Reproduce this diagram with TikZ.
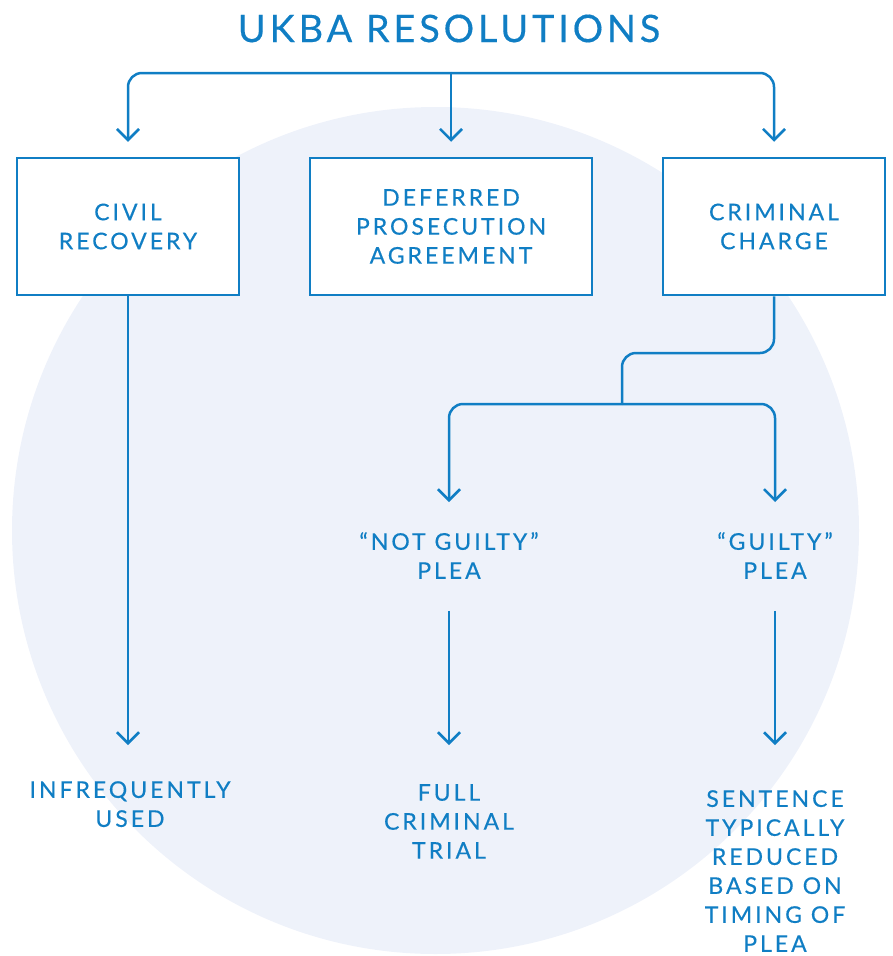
\documentclass[tikz,border=0pt]{standalone}
\usepackage{fontspec}
\setmainfont{Lato}[LetterSpace=13,FakeBold=0.35]
\usetikzlibrary{arrows.meta}
\definecolor{ukblue}{RGB}{16,126,196}
\definecolor{circfill}{RGB}{238,242,250}
\begin{document}
\begin{tikzpicture}[x=1pt,y=-1pt,
  lbl/.style={font=\fontsize{23}{29}\selectfont, text=ukblue, align=center, inner sep=0pt},
  box/.style={draw=ukblue, line width=2.5pt, fill=white, lbl, minimum height=137pt},
  conn/.style={draw=ukblue, line width=2.5pt, rounded corners=14pt},
  arr/.style={conn, -{Straight Barb[length=11pt,width=22pt]}}]
\useasboundingbox (0,0) rectangle (892,956);
\fill[circfill] (435.5,530.5) circle[radius=423.5];
\node[lbl, font=\fontsize{38}{40}\selectfont\addfontfeatures{LetterSpace=10}] (title) at (449,28.5) {UKBA RESOLUTIONS};
\node[box, minimum width=222pt] (civ) at (128,226.5) {CIVIL\\RECOVERY};
\node[box, minimum width=282pt] (dpa) at (451,226.5) {DEFERRED\\PROSECUTION\\AGREEMENT};
\node[box, minimum width=222pt] (crim) at (774,226.5) {CRIMINAL\\CHARGE};
\coordinate (top) at (451,73);
\draw[arr, shorten >=15pt] (top) -- (dpa.north);
\draw[arr, shorten >=15pt] (top) -| (civ.north);
\draw[arr, shorten >=15pt] (top) -| (crim.north);
\node[lbl, anchor=north] (ng) at (449,532) {“NOT GUILTY”\\PLEA};
\node[lbl, anchor=north] (gp) at (775,532) {“GUILTY”\\PLEA};
\coordinate (j1) at (622,353);
\coordinate (j2) at (622,404);
\draw[conn] (crim.south) |- (j1) -- (j2);
\draw[arr, shorten >=30pt] (j2) -| (ng.north);
\draw[arr, shorten >=30pt] (j2) -| (gp.north);
\node[lbl, anchor=north] (inf) at (130,781) {INFREQUENTLY\\USED};
\node[lbl, anchor=north] (full) at (449,784) {FULL\\CRIMINAL\\TRIAL};
\node[lbl, anchor=north] (sent) at (775,790) {SENTENCE\\TYPICALLY\\REDUCED\\BASED ON\\TIMING OF\\PLEA};
\draw[arr, shorten >=36pt] (civ.south) -- (civ.south |- inf.north);
\draw[arr, shorten <=32pt, shorten >=39pt] (ng.south) -- (ng.south |- full.north);
\draw[arr, shorten <=32pt, shorten >=45pt] (gp.south) -- (gp.south |- sent.north);
\end{tikzpicture}
\end{document}
